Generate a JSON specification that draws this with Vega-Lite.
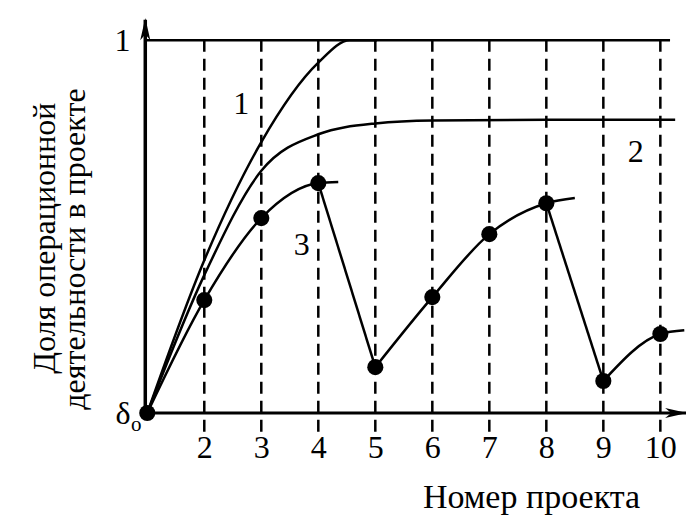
{
  "$schema": "https://vega.github.io/schema/vega-lite/v6.json",
  "autosize": "none",
  "width": 541,
  "height": 395,
  "padding": {"left": 145, "top": 18, "right": 0, "bottom": 102},
  "background": "white",
  "config": {
    "view": {"stroke": null},
    "font": "Liberation Serif",
    "axis": {"titleFont": "Liberation Serif", "labelFont": "Liberation Serif"}
  },
  "datasets": {
    "curves": [
      {"x": 1, "y": 0, "seg": "c1"},
      {"x": 2, "y": 0.41, "seg": "c1"},
      {"x": 3, "y": 0.727, "seg": "c1"},
      {"x": 4, "y": 0.94, "seg": "c1"},
      {"x": 4.55, "y": 1.0, "seg": "c1"},
      {"x": 5.03, "y": 1.0, "seg": "c1"},
      {"x": 1, "y": 0, "seg": "c2"},
      {"x": 2, "y": 0.37, "seg": "c2"},
      {"x": 3, "y": 0.65, "seg": "c2"},
      {"x": 4, "y": 0.748, "seg": "c2"},
      {"x": 5, "y": 0.777, "seg": "c2"},
      {"x": 6, "y": 0.785, "seg": "c2"},
      {"x": 8, "y": 0.787, "seg": "c2"},
      {"x": 10.26, "y": 0.787, "seg": "c2"},
      {"x": 1, "y": 0, "seg": "c3a"},
      {"x": 2, "y": 0.303, "seg": "c3a"},
      {"x": 3, "y": 0.523, "seg": "c3a"},
      {"x": 4, "y": 0.617, "seg": "c3a"},
      {"x": 4.35, "y": 0.62, "seg": "c3a"},
      {"x": 4, "y": 0.617, "seg": "c3b"},
      {"x": 5, "y": 0.123, "seg": "c3b"},
      {"x": 5, "y": 0.123, "seg": "c3c"},
      {"x": 6, "y": 0.311, "seg": "c3c"},
      {"x": 7, "y": 0.48, "seg": "c3c"},
      {"x": 8, "y": 0.563, "seg": "c3c"},
      {"x": 8.5, "y": 0.577, "seg": "c3c"},
      {"x": 8, "y": 0.563, "seg": "c3d"},
      {"x": 9, "y": 0.086, "seg": "c3d"},
      {"x": 9, "y": 0.086, "seg": "c3e"},
      {"x": 10, "y": 0.212, "seg": "c3e"},
      {"x": 10.42, "y": 0.222, "seg": "c3e"}
    ],
    "dots": [
      {"x": 1, "y": 0},
      {"x": 2, "y": 0.303},
      {"x": 3, "y": 0.523},
      {"x": 4, "y": 0.617},
      {"x": 5, "y": 0.123},
      {"x": 6, "y": 0.311},
      {"x": 7, "y": 0.48},
      {"x": 8, "y": 0.563},
      {"x": 9, "y": 0.086},
      {"x": 10, "y": 0.212}
    ],
    "vlines": [
      {"x": 2, "y": -0.05, "y2": 1.019},
      {"x": 3, "y": -0.05, "y2": 1.019},
      {"x": 4, "y": -0.05, "y2": 1.019},
      {"x": 5, "y": -0.05, "y2": 1.019},
      {"x": 6, "y": -0.05, "y2": 1.019},
      {"x": 7, "y": -0.05, "y2": 1.019},
      {"x": 8, "y": -0.05, "y2": 1.019},
      {"x": 9, "y": -0.05, "y2": 1.019},
      {"x": 10, "y": -0.05, "y2": 1.019}
    ],
    "labels": [
      {"x": 2.65, "y": 0.828, "text": "1"},
      {"x": 9.57, "y": 0.70, "text": "2"},
      {"x": 3.71, "y": 0.45, "text": "3"}
    ],
    "ytitle": [
      {"x": -0.619, "y": 0.469, "text": "Доля операционной"},
      {"x": -0.093, "y": 0.44, "text": "деятельности в проекте"}
    ]
  },
  "encoding": {
    "x": {
      "field": "x",
      "type": "quantitative",
      "scale": {"domain": [0.96, 10.45], "nice": false, "zero": false},
      "axis": {
        "values": [2, 3, 4, 5, 6, 7, 8, 9, 10],
        "domain": false,
        "ticks": false,
        "tickSize": 0,
        "grid": false,
        "labelFont": "Liberation Serif",
        "labelFontSize": 32,
        "labelColor": "black",
        "labelBaseline": "alphabetic",
        "labelPadding": 44,
        "labelOverlap": false,
        "labelFlush": false,
        "title": "Номер проекта",
        "titleFont": "Liberation Serif",
        "titleFontSize": 34,
        "titleFontWeight": "normal",
        "titleColor": "black",
        "titleX": 386,
        "titleY": 94,
        "titleAlign": "center",
        "titleBaseline": "alphabetic"
      }
    },
    "y": {
      "field": "y",
      "type": "quantitative",
      "scale": {"domain": [0, 1.06], "nice": false, "zero": false},
      "axis": {
        "values": [0, 1],
        "labelExpr": "datum.value == 1 ? '1' : 'δ'",
        "domain": false,
        "ticks": false,
        "tickSize": 0,
        "grid": false,
        "labelFont": "Liberation Serif",
        "labelFontSize": 32,
        "labelColor": "black",
        "labelBaseline": "middle",
        "labelPadding": 15,
        "labelFlush": false,
        "labelOverlap": false,
        "title": null
      }
    }
  },
  "layer": [
    {
      "data": {"name": "vlines"},
      "mark": {"type": "rule", "color": "black", "strokeWidth": 2.5, "strokeDash": [12, 7]},
      "encoding": {"y2": {"field": "y2"}}
    },
    {
      "data": {"values": [{"x": 0.965, "x2": 10.17, "y": 1}]},
      "mark": {"type": "rule", "color": "black", "strokeWidth": 2.5},
      "encoding": {"x2": {"field": "x2"}}
    },
    {
      "data": {"values": [{"x": 0.965, "y": 0, "y2": 1.055}]},
      "mark": {"type": "rule", "color": "black", "strokeWidth": 3.5},
      "encoding": {"y2": {"field": "y2"}}
    },
    {
      "data": {"values": [{"x": 0.965, "x2": 10.45, "y": 0}]},
      "mark": {"type": "rule", "color": "black", "strokeWidth": 3},
      "encoding": {"x2": {"field": "x2"}}
    },
    {
      "data": {"values": [{"x": 0.965, "y": 1.03}]},
      "mark": {"type": "point", "shape": "M -0.45 1 L 0 -1 L 0.45 1 L 0 0.45 Z", "filled": true, "color": "black", "opacity": 1, "size": 500}
    },
    {
      "data": {"values": [{"x": 10.28, "y": 0}]},
      "mark": {"type": "point", "shape": "M -1 -0.45 L 1 0 L -1 0.45 L -0.45 0 Z", "filled": true, "color": "black", "opacity": 1, "size": 500}
    },
    {
      "data": {"name": "curves"},
      "mark": {"type": "line", "color": "black", "strokeWidth": 2.5, "interpolate": "monotone"},
      "encoding": {"detail": {"field": "seg"}}
    },
    {
      "data": {"name": "dots"},
      "mark": {"type": "circle", "color": "black", "opacity": 1, "size": 260}
    },
    {
      "data": {"name": "labels"},
      "mark": {"type": "text", "font": "Liberation Serif", "fontSize": 32, "color": "black", "align": "center", "baseline": "middle"},
      "encoding": {"text": {"field": "text"}}
    },
    {
      "data": {"name": "ytitle"},
      "mark": {"type": "text", "font": "Liberation Serif", "fontSize": 32, "color": "black", "align": "center", "baseline": "alphabetic", "angle": 270, "clip": false},
      "encoding": {"text": {"field": "text"}}
    },
    {
      "data": {"values": [{"x": 0.965, "y": 0, "text": "o"}]},
      "mark": {"type": "text", "font": "Liberation Serif", "fontSize": 21, "color": "black", "align": "center", "baseline": "middle", "dx": -9, "dy": 12},
      "encoding": {"text": {"field": "text"}}
    }
  ]
}
